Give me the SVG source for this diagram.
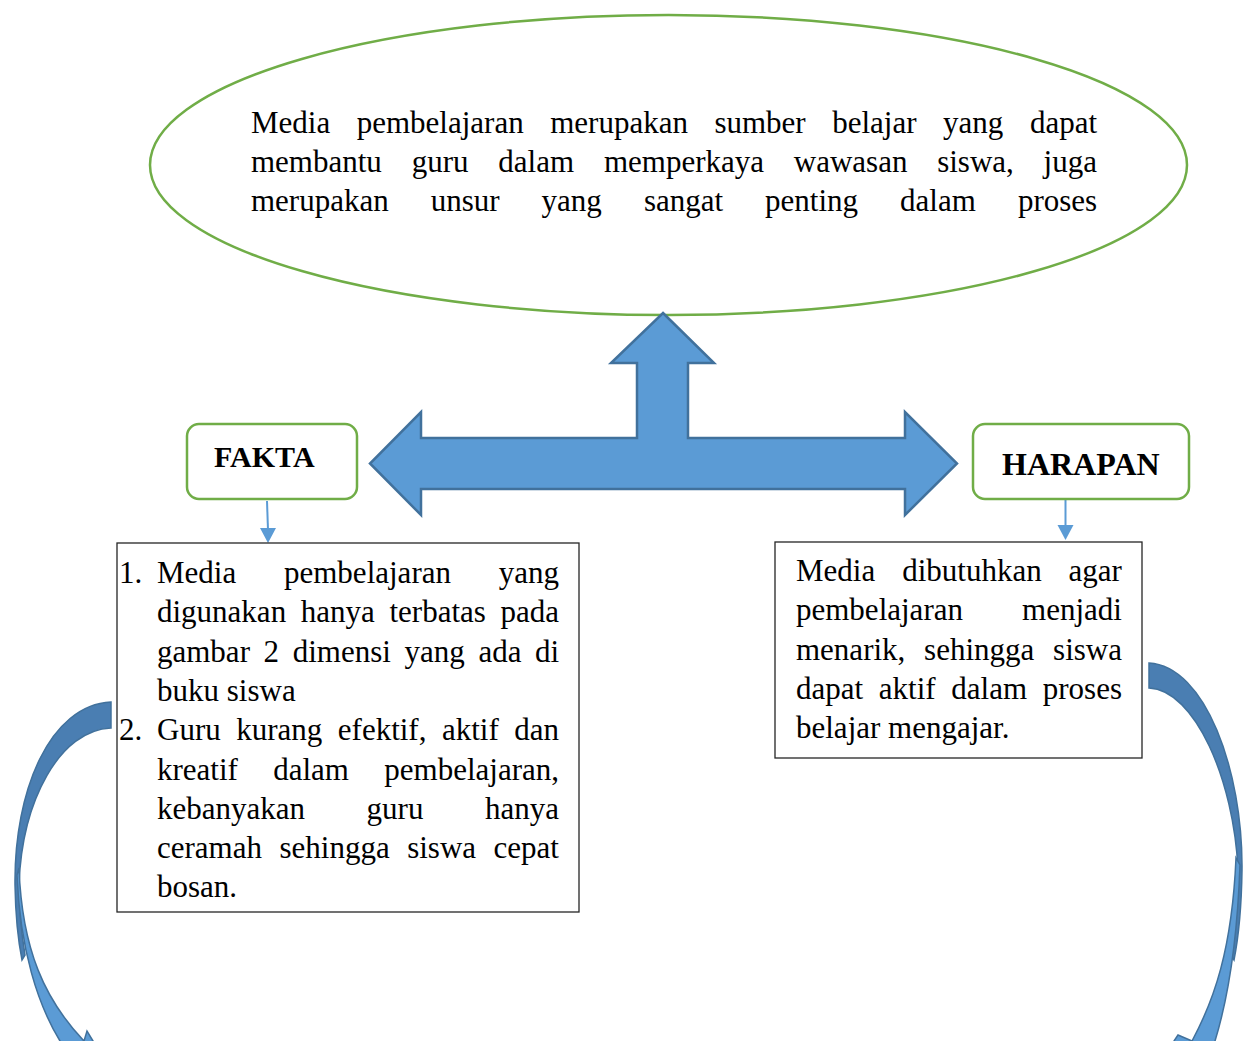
<svg xmlns="http://www.w3.org/2000/svg" width="1254" height="1041" viewBox="0 0 1254 1041">
<style>
.t{font-family:"Liberation Serif","Times New Roman",serif;font-size:31px;fill:#000}
.b{font-family:"Liberation Serif","Times New Roman",serif;font-weight:bold;fill:#000}
.green{fill:#fff;stroke:#70AD47;stroke-width:2.5}
.box{fill:#fff;stroke:#262626;stroke-width:1.3}
.blue{fill:#5B9BD5;stroke:#41719C;stroke-width:2.5;stroke-linejoin:miter}
.dark{fill:#4A7EB2;stroke:#41719C;stroke-width:1.5}
.light{fill:#5B9BD5;stroke:#41719C;stroke-width:1.5}
.conn{stroke:#5B9BD5;stroke-width:2;fill:none}
.head{fill:#5B9BD5}
</style>
<rect width="1254" height="1041" fill="#fff"/>

<g id="ellipse-node">
<ellipse class="green" cx="668.5" cy="165" rx="518.5" ry="150"/>
<text class="t" y="133"><tspan x="251">Media</tspan><tspan x="356.7">pembelajaran</tspan><tspan x="550.2">merupakan</tspan><tspan x="714.4">sumber</tspan><tspan x="832.2">belajar</tspan><tspan x="943.1">yang</tspan><tspan x="1029.9">dapat</tspan></text>
<text class="t" y="172"><tspan x="251">membantu</tspan><tspan x="411.7">guru</tspan><tspan x="498.3">dalam</tspan><tspan x="603.9">memperkaya</tspan><tspan x="793.8">wawasan</tspan><tspan x="937.2">siswa,</tspan><tspan x="1043.6">juga</tspan></text>
<text class="t" y="211"><tspan x="251">merupakan</tspan><tspan x="430.7">unsur</tspan><tspan x="541.6">yang</tspan><tspan x="643.9">sangat</tspan><tspan x="765.1">penting</tspan><tspan x="900.1">dalam</tspan><tspan x="1017.9">proses</tspan></text>
</g>

<g id="connectors">
<polygon id="t-arrow" class="blue" points="663,313 714,363 688,363 688,438 905,438 905,412 957,463.5 905,515 905,489 421,489 421,515 370,463.5 421,412 421,438 637,438 637,363 611,363"/>
<line class="conn" x1="267" y1="501" x2="268" y2="530"/>
<polygon class="head" points="260,528 276,528 268,543"/>
<line class="conn" x1="1065.5" y1="500" x2="1065.5" y2="527"/>
<polygon class="head" points="1057.5,525 1073.5,525 1065.5,540"/>
<g id="curved-left">
<path class="dark" d="M111,702 C50,705 14,790 15,885 C15.5,915 18,940 22,960 L25,955 C21,930 19,905 19,885 C22,800 60,730 111,728 Z"/>
<path class="light" d="M17,875 C20,950 38,1005 60,1041 L60,1070 L130,1070 L93,1041 L87,1031 L84,1041 C45,1000 22,950 19,868 Z"/>
</g>
<g id="curved-right">
<path class="dark" d="M1149,663 C1205,666 1243,770 1242,870 C1241.5,905 1239,935 1234,960 L1231,955 C1235,930 1237.5,900 1238,870 C1234,780 1195,690 1149,688 Z"/>
<path class="light" d="M1240,865 C1237,950 1226,1005 1215,1041 L1212,1070 L1150,1070 L1174,1041 L1178,1035 L1192,1041 C1214,1000 1232,950 1236,858 Z"/>
</g>
</g>

<g id="fakta">
<rect class="green" x="187" y="424" width="170" height="75" rx="12"/>
<text class="b" x="214" y="467" font-size="30">FAKTA</text>
</g>

<g id="harapan">
<rect class="green" x="973" y="424" width="216" height="75" rx="12"/>
<text class="b" x="1002" y="475" font-size="32">HARAPAN</text>
</g>

<g id="fakta-box">
<rect class="box" x="117" y="543" width="462" height="369"/>
<text class="t" y="583"><tspan x="119">1.</tspan><tspan x="157">Media</tspan><tspan x="284">pembelajaran</tspan><tspan x="498.7">yang</tspan></text>
<text class="t" y="622.3"><tspan x="157">digunakan</tspan><tspan x="300.8">hanya</tspan><tspan x="389.5">terbatas</tspan><tspan x="500.6">pada</tspan></text>
<text class="t" y="661.6"><tspan x="157">gambar</tspan><tspan x="263.6">2</tspan><tspan x="292.7">dimensi</tspan><tspan x="404.5">yang</tspan><tspan x="478.4">ada</tspan><tspan x="535">di</tspan></text>
<text class="t" x="157" y="700.9">buku siswa</text>
<text class="t" y="740.2"><tspan x="119">2.</tspan><tspan x="157">Guru</tspan><tspan x="236.2">kurang</tspan><tspan x="337.8">efektif,</tspan><tspan x="442">aktif</tspan><tspan x="514.3">dan</tspan></text>
<text class="t" y="779.5"><tspan x="157">kreatif</tspan><tspan x="273.2">dalam</tspan><tspan x="384.3">pembelajaran,</tspan></text>
<text class="t" y="818.8"><tspan x="157">kebanyakan</tspan><tspan x="366.6">guru</tspan><tspan x="485">hanya</tspan></text>
<text class="t" y="858.1"><tspan x="157">ceramah</tspan><tspan x="279.5">sehingga</tspan><tspan x="407.2">siswa</tspan><tspan x="493.6">cepat</tspan></text>
<text class="t" x="157" y="897.4">bosan.</text>
</g>

<g id="harapan-box">
<rect class="box" x="775" y="542" width="367" height="216"/>
<text class="t" y="581"><tspan x="796">Media</tspan><tspan x="902.2">dibutuhkan</tspan><tspan x="1068.6">agar</tspan></text>
<text class="t" y="620.3"><tspan x="796">pembelajaran</tspan><tspan x="1022.1">menjadi</tspan></text>
<text class="t" y="659.6"><tspan x="796">menarik,</tspan><tspan x="924.1">sehingga</tspan><tspan x="1053.1">siswa</tspan></text>
<text class="t" y="698.9"><tspan x="796">dapat</tspan><tspan x="878.8">aktif</tspan><tspan x="951.3">dalam</tspan><tspan x="1042.8">proses</tspan></text>
<text class="t" x="796" y="738.2">belajar mengajar.</text>
</g>
</svg>
